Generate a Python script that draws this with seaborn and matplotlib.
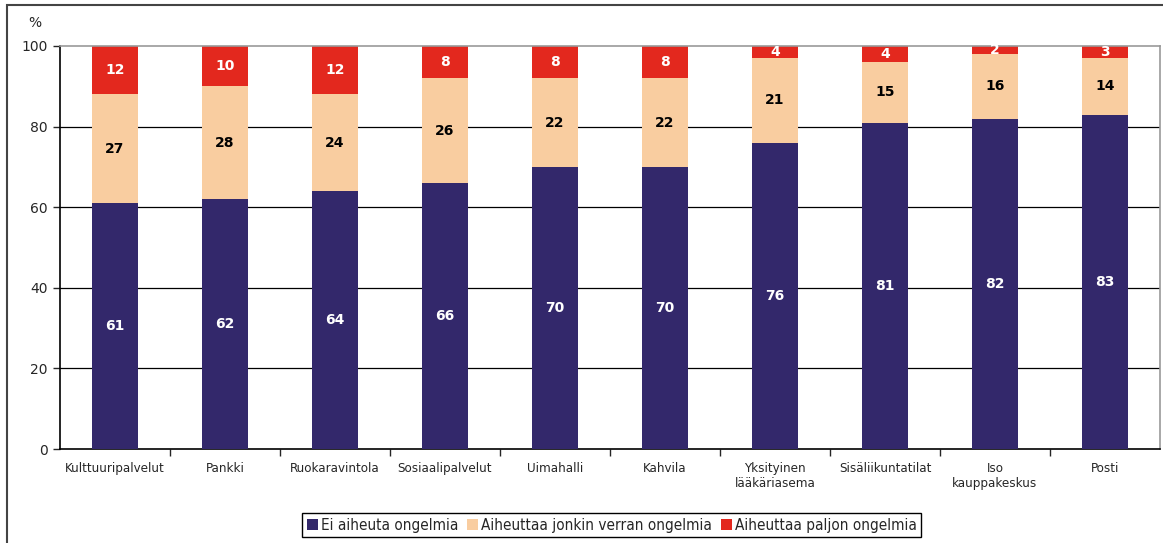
import matplotlib
matplotlib.use('Agg')
import matplotlib.pyplot as plt
import numpy as np
import pandas as pd
import seaborn as sns
from matplotlib.patches import Patch, Rectangle
from matplotlib import font_manager

# Data (percent)
categories = ['Kulttuuripalvelut', 'Pankki', 'Ruokaravintola', 'Sosiaalipalvelut',
              'Uimahalli', 'Kahvila', 'Yksityinen\nlääkäriasema', 'Sisäliikuntatilat',
              'Iso\nkauppakeskus', 'Posti']
ei_ongelmia = [61, 62, 64, 66, 70, 70, 76, 81, 82, 83]
jonkin_verran = [27, 28, 24, 26, 22, 22, 21, 15, 16, 14]
paljon = [12, 10, 12, 8, 8, 8, 4, 4, 2, 3]

series_names = ['Ei aiheuta ongelmia', 'Aiheuttaa jonkin verran ongelmia', 'Aiheuttaa paljon ongelmia']
navy, beige, red = '#33286B', '#F9CDA0', '#E3281E'

df = pd.DataFrame({'cat': categories, 'a': ei_ongelmia, 'b': jonkin_verran, 'c': paljon})
df['ab'] = df['a'] + df['b']
df['abc'] = df['ab'] + df['c']

sns.set_style('white')
narrow_prop = font_manager.FontProperties(family='DejaVu Sans', stretch='condensed', size=9.5)

fig = plt.figure(figsize=(11.63, 5.43), dpi=100)
ax = fig.add_axes([0.0516, 0.1731, 0.9458, 0.7422])

# stacked bars drawn back to front
for col, c, z in [('abc', red, 2), ('ab', beige, 3), ('a', navy, 4)]:
    sns.barplot(data=df, x='cat', y=col, color=c, width=0.42, saturation=1, ax=ax,
                zorder=z, edgecolor='none', linewidth=0)

# segment labels
for i, row in df.iterrows():
    top = min(row['abc'], 100)
    ax.text(i, row['a'] / 2, str(row['a']), ha='center', va='center', color='white',
            fontsize=10, fontweight='bold', zorder=5)
    ax.text(i, row['a'] + row['b'] / 2, str(row['b']), ha='center', va='center', color='black',
            fontsize=10, fontweight='bold', zorder=5)
    ax.text(i, (row['ab'] + top) / 2, str(row['c']), ha='center', va='center', color='white',
            fontsize=10, fontweight='bold', zorder=5)

ax.set_ylim(0, 100)
ax.set_xlim(-0.5, len(categories) - 0.5)
ax.set_yticks([0, 20, 40, 60, 80, 100])
ax.tick_params(axis='y', labelsize=10, length=5, width=1, direction='out', left=True, pad=4)
for y in [20, 40, 60, 80]:
    ax.axhline(y, color='black', lw=0.9, zorder=1)

# x ticks: labels centred on bars, tick marks between categories
ax.set_xticks(range(len(categories)))
ax.set_xticklabels(categories, linespacing=1.2)
for lab in ax.get_xticklabels():
    lab.set_fontproperties(narrow_prop)
ax.tick_params(axis='x', which='major', length=0, pad=9)
ax.set_xticks(np.arange(0.5, len(categories) - 0.5, 1), minor=True)
ax.tick_params(axis='x', which='minor', length=5, width=1, direction='out', bottom=True)
ax.set_xlabel('')
ax.set_ylabel('')

for side in ['left', 'bottom']:
    ax.spines[side].set_color('black')
    ax.spines[side].set_linewidth(1.2)
for side in ['top', 'right']:
    ax.spines[side].set_color('#999999')
    ax.spines[side].set_linewidth(1.2)
    ax.spines[side].set_visible(True)

fig.text(0.030, 0.958, '%', fontsize=10, ha='center', va='center')

handles = [Patch(facecolor=c, edgecolor='none') for c in [navy, beige, red]]
leg_prop = font_manager.FontProperties(family='DejaVu Sans', stretch='condensed', size=11)
leg = fig.legend(handles, series_names, loc='center', bbox_to_anchor=(0.526, 0.033), ncol=3,
                 frameon=True, fancybox=False, framealpha=1, edgecolor='black',
                 prop=leg_prop, handlelength=0.7, handleheight=0.7,
                 handletextpad=0.2, columnspacing=0.6, borderpad=0.3)
leg.get_frame().set_linewidth(1.0)

# outer frame of the original picture (cut at the right and bottom edges)
fig.patches.append(Rectangle((0.006, -0.1), 1.2, 1.09, transform=fig.transFigure,
                             fill=False, edgecolor='#444444', lw=1.5))

fig.savefig('out.png', dpi=100)
